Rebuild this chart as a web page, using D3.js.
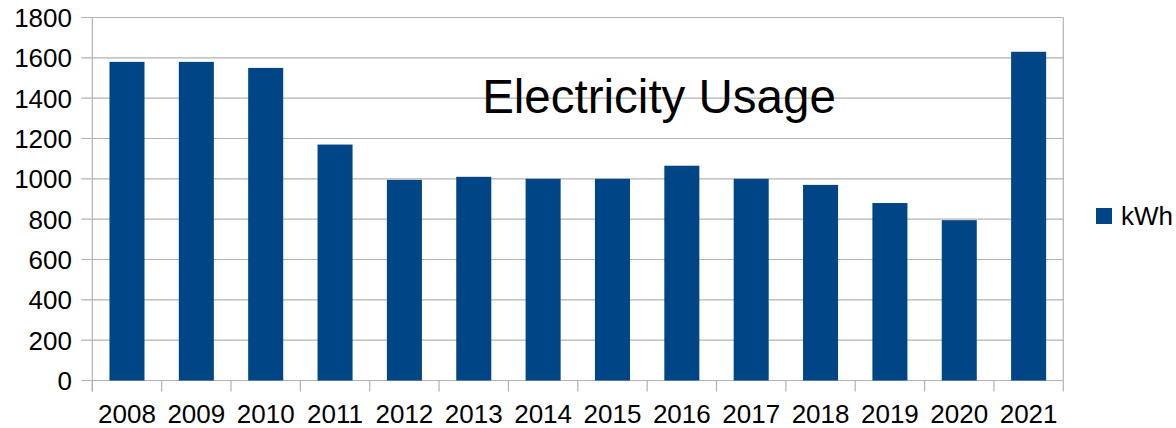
<!DOCTYPE html>
<html><head><meta charset="utf-8">
<script src="https://cdn.jsdelivr.net/npm/d3@7"></script>
<style>body{margin:0;background:#fff}svg{display:block}</style>
</head><body>
<svg id="c" width="1176" height="428"></svg>
<script>
const years = ["2008","2009","2010","2011","2012","2013","2014","2015","2016","2017","2018","2019","2020","2021"];
const kwh = [1580,1580,1550,1170,995,1010,1000,1000,1065,1000,970,880,795,1630];
const yTicks = [0,200,400,600,800,1000,1200,1400,1600,1800];
const seriesName = "kWh";
const title = "Electricity Usage";

const svg = d3.select("#c");
const L = 92.3, R = 1063.3, T = 17.5, B = 380.5;
const font = "'Liberation Sans', Arial, sans-serif";
const grid = "#b3b3b3";
const barColor = "#004586";

const x = d3.scaleBand().domain(years).range([L, R]).paddingInner(0.495).paddingOuter(0.2475);
const y = d3.scaleLinear().domain([0, 1800]).range([B, T]);

// gridlines
svg.append("g").selectAll("line").data(yTicks).join("line")
  .attr("x1", L - 11).attr("x2", R)
  .attr("y1", d => y(d)).attr("y2", d => y(d))
  .attr("stroke", grid).attr("stroke-width", 1.2);

// right border of plot
svg.append("line").attr("x1", R).attr("x2", R).attr("y1", T).attr("y2", B)
  .attr("stroke", grid).attr("stroke-width", 1.2);
// left axis line
svg.append("line").attr("x1", L).attr("x2", L).attr("y1", T).attr("y2", B + 11)
  .attr("stroke", grid).attr("stroke-width", 1.2);

// x tick marks at band boundaries
const bounds = d3.range(years.length + 1).map(i => L + i * (R - L) / years.length);
svg.append("g").selectAll("line").data(bounds).join("line")
  .attr("x1", d => d).attr("x2", d => d).attr("y1", B).attr("y2", B + 11)
  .attr("stroke", grid).attr("stroke-width", 1.2);

// bars
svg.append("g").selectAll("rect").data(years).join("rect")
  .attr("x", d => x(d)).attr("width", x.bandwidth())
  .attr("y", (d, i) => y(kwh[i])).attr("height", (d, i) => B - y(kwh[i]))
  .attr("fill", barColor);

// y labels
svg.append("g").selectAll("text").data(yTicks).join("text")
  .attr("x", 72).attr("y", d => y(d)).attr("dy", "0.36em")
  .attr("text-anchor", "end").attr("font-family", font).attr("font-size", 26)
  .attr("fill", "#000").text(d => d);

// x labels
svg.append("g").selectAll("text").data(years).join("text")
  .attr("x", d => x(d) + x.bandwidth() / 2).attr("y", 423)
  .attr("text-anchor", "middle").attr("font-family", font).attr("font-size", 26)
  .attr("fill", "#000").text(d => d);

// title
svg.append("text").attr("x", 659).attr("y", 113).attr("text-anchor", "middle")
  .attr("font-family", font).attr("font-size", 47.5).attr("fill", "#000").text(title);

// legend
svg.append("rect").attr("x", 1096).attr("y", 208).attr("width", 16).attr("height", 16).attr("fill", barColor);
svg.append("text").attr("x", 1121).attr("y", 225).attr("font-family", font).attr("font-size", 26)
  .attr("fill", "#000").text(seriesName);
</script>
</body></html>
